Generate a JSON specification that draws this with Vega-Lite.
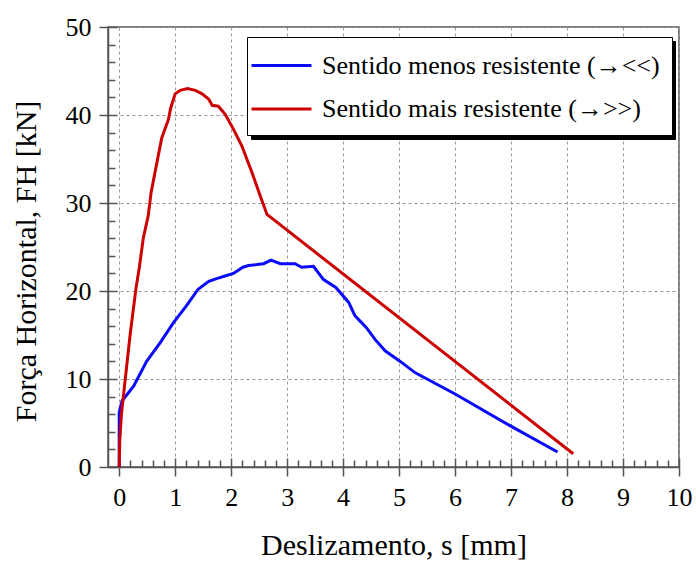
{
  "$schema": "https://vega.github.io/schema/vega-lite/v6.json",
  "autosize": {"type": "none"},
  "padding": {"left": 108, "top": 27, "right": 17, "bottom": 96},
  "width": 571,
  "height": 440,
  "background": "white",
  "config": {
    "view": {"stroke": "#555555", "strokeWidth": 1.5},
    "font": "Liberation Serif, Times New Roman, serif",
    "axis": {
      "labelFont": "Liberation Serif, Times New Roman, serif",
      "labelFontSize": 26,
      "labelColor": "black",
      "titleFont": "Liberation Serif, Times New Roman, serif",
      "titleFontSize": 30,
      "titleFontWeight": "normal",
      "titleColor": "black",
      "domainColor": "#555555",
      "domainWidth": 1.5,
      "tickColor": "#555555",
      "tickWidth": 1.5,
      "gridColor": "#999999",
      "gridDash": [3, 3],
      "gridWidth": 1,
      "labelOverlap": false,
      "labelFlush": false
    },
    "legend": {
      "labelFont": "Liberation Serif, Times New Roman, serif",
      "labelFontSize": 26,
      "labelColor": "black",
      "labelLimit": 0
    }
  },
  "resolve": {"axis": {"x": "independent", "y": "independent"}},
  "data": {
    "values": [
      {"s": 0, "F": 0, "serie": "Sentido menos resistente (→<<)"},
      {"s": 0, "F": 6.2, "serie": "Sentido menos resistente (→<<)"},
      {"s": 0.05, "F": 7.5, "serie": "Sentido menos resistente (→<<)"},
      {"s": 0.26, "F": 9.2, "serie": "Sentido menos resistente (→<<)"},
      {"s": 0.49, "F": 12.0, "serie": "Sentido menos resistente (→<<)"},
      {"s": 0.73, "F": 14.1, "serie": "Sentido menos resistente (→<<)"},
      {"s": 0.97, "F": 16.4, "serie": "Sentido menos resistente (→<<)"},
      {"s": 1.2, "F": 18.3, "serie": "Sentido menos resistente (→<<)"},
      {"s": 1.41, "F": 20.2, "serie": "Sentido menos resistente (→<<)"},
      {"s": 1.6, "F": 21.1, "serie": "Sentido menos resistente (→<<)"},
      {"s": 1.74, "F": 21.4, "serie": "Sentido menos resistente (→<<)"},
      {"s": 1.89, "F": 21.7, "serie": "Sentido menos resistente (→<<)"},
      {"s": 2.04, "F": 22.0, "serie": "Sentido menos resistente (→<<)"},
      {"s": 2.21, "F": 22.7, "serie": "Sentido menos resistente (→<<)"},
      {"s": 2.31, "F": 22.9, "serie": "Sentido menos resistente (→<<)"},
      {"s": 2.46, "F": 23.0, "serie": "Sentido menos resistente (→<<)"},
      {"s": 2.58, "F": 23.1, "serie": "Sentido menos resistente (→<<)"},
      {"s": 2.71, "F": 23.5, "serie": "Sentido menos resistente (→<<)"},
      {"s": 2.88, "F": 23.1, "serie": "Sentido menos resistente (→<<)"},
      {"s": 3.14, "F": 23.1, "serie": "Sentido menos resistente (→<<)"},
      {"s": 3.26, "F": 22.7, "serie": "Sentido menos resistente (→<<)"},
      {"s": 3.47, "F": 22.8, "serie": "Sentido menos resistente (→<<)"},
      {"s": 3.65, "F": 21.3, "serie": "Sentido menos resistente (→<<)"},
      {"s": 3.87, "F": 20.4, "serie": "Sentido menos resistente (→<<)"},
      {"s": 4.1, "F": 18.7, "serie": "Sentido menos resistente (→<<)"},
      {"s": 4.21, "F": 17.2, "serie": "Sentido menos resistente (→<<)"},
      {"s": 4.42, "F": 15.8, "serie": "Sentido menos resistente (→<<)"},
      {"s": 4.57, "F": 14.5, "serie": "Sentido menos resistente (→<<)"},
      {"s": 4.75, "F": 13.2, "serie": "Sentido menos resistente (→<<)"},
      {"s": 5.02, "F": 12.0, "serie": "Sentido menos resistente (→<<)"},
      {"s": 5.29, "F": 10.7, "serie": "Sentido menos resistente (→<<)"},
      {"s": 6.0, "F": 8.3, "serie": "Sentido menos resistente (→<<)"},
      {"s": 6.98, "F": 4.7, "serie": "Sentido menos resistente (→<<)"},
      {"s": 7.83, "F": 1.7, "serie": "Sentido menos resistente (→<<)"},
      {"s": 0, "F": 0, "serie": "Sentido mais resistente (→>>)"},
      {"s": 0.01, "F": 3.0, "serie": "Sentido mais resistente (→>>)"},
      {"s": 0.04, "F": 6.0, "serie": "Sentido mais resistente (→>>)"},
      {"s": 0.1, "F": 9.5, "serie": "Sentido mais resistente (→>>)"},
      {"s": 0.2, "F": 15.3, "serie": "Sentido mais resistente (→>>)"},
      {"s": 0.3, "F": 20.3, "serie": "Sentido mais resistente (→>>)"},
      {"s": 0.36, "F": 22.7, "serie": "Sentido mais resistente (→>>)"},
      {"s": 0.43, "F": 26.0, "serie": "Sentido mais resistente (→>>)"},
      {"s": 0.52, "F": 28.6, "serie": "Sentido mais resistente (→>>)"},
      {"s": 0.57, "F": 31.2, "serie": "Sentido mais resistente (→>>)"},
      {"s": 0.64, "F": 33.5, "serie": "Sentido mais resistente (→>>)"},
      {"s": 0.76, "F": 37.4, "serie": "Sentido mais resistente (→>>)"},
      {"s": 0.88, "F": 39.5, "serie": "Sentido mais resistente (→>>)"},
      {"s": 0.92, "F": 40.8, "serie": "Sentido mais resistente (→>>)"},
      {"s": 1.0, "F": 42.4, "serie": "Sentido mais resistente (→>>)"},
      {"s": 1.09, "F": 42.8, "serie": "Sentido mais resistente (→>>)"},
      {"s": 1.22, "F": 43.0, "serie": "Sentido mais resistente (→>>)"},
      {"s": 1.36, "F": 42.8, "serie": "Sentido mais resistente (→>>)"},
      {"s": 1.48, "F": 42.4, "serie": "Sentido mais resistente (→>>)"},
      {"s": 1.6, "F": 41.8, "serie": "Sentido mais resistente (→>>)"},
      {"s": 1.66, "F": 41.1, "serie": "Sentido mais resistente (→>>)"},
      {"s": 1.77, "F": 41.0, "serie": "Sentido mais resistente (→>>)"},
      {"s": 1.89, "F": 40.1, "serie": "Sentido mais resistente (→>>)"},
      {"s": 2.04, "F": 38.4, "serie": "Sentido mais resistente (→>>)"},
      {"s": 2.19, "F": 36.5, "serie": "Sentido mais resistente (→>>)"},
      {"s": 2.37, "F": 33.5, "serie": "Sentido mais resistente (→>>)"},
      {"s": 2.52, "F": 30.8, "serie": "Sentido mais resistente (→>>)"},
      {"s": 2.64, "F": 28.7, "serie": "Sentido mais resistente (→>>)"},
      {"s": 8.11, "F": 1.5, "serie": "Sentido mais resistente (→>>)"}
    ]
  },
  "layer": [
    {
      "transform": [{"filter": "datum.serie === 'Sentido menos resistente (→<<)'"}],
      "mark": {"type": "line", "strokeWidth": 3},
      "encoding": {
        "x": {
          "field": "s",
          "type": "quantitative",
          "scale": {"domain": [-0.2, 10], "nice": false, "zero": false},
          "axis": {
            "orient": "bottom",
            "title": "Deslizamento, s [mm]",
            "values": [0, 0.2, 0.4, 0.6, 0.8, 1, 1.2, 1.4, 1.6, 1.8, 2, 2.2, 2.4, 2.6, 2.8, 3, 3.2, 3.4, 3.6, 3.8, 4, 4.2, 4.4, 4.6, 4.8, 5, 5.2, 5.4, 5.6, 5.8, 6, 6.2, 6.4, 6.6, 6.8, 7, 7.2, 7.4, 7.6, 7.8, 8, 8.2, 8.4, 8.6, 8.8, 9, 9.2, 9.4, 9.6, 9.8, 10],
            "labelExpr": "datum.value % 1 === 0 ? format(datum.value, 'd') : ''",
            "grid": true,
            "gridOpacity": {"condition": {"test": "datum.value % 1 === 0", "value": 1}, "value": 0},
            "tickSize": {"condition": {"test": "datum.value % 1 === 0", "value": 9}, "value": -7},
            "labelPadding": 8,
            "titlePadding": 20
          }
        },
        "y": {
          "field": "F",
          "type": "quantitative",
          "scale": {"domain": [0, 50], "nice": false},
          "axis": {
            "orient": "left",
            "title": "Força Horizontal, FH [kN]",
            "values": [0, 2, 4, 6, 8, 10, 12, 14, 16, 18, 20, 22, 24, 26, 28, 30, 32, 34, 36, 38, 40, 42, 44, 46, 48, 50],
            "labelExpr": "datum.value % 10 === 0 ? format(datum.value, 'd') : ''",
            "grid": true,
            "gridOpacity": {"condition": {"test": "datum.value % 10 === 0", "value": 1}, "value": 0},
            "tickSize": {"condition": {"test": "datum.value % 10 === 0", "value": 9}, "value": -7},
            "labelPadding": 8,
            "titleX": -82,
            "titleY": 234,
            "titleBaseline": "middle"
          }
        },
        "color": {
          "field": "serie",
          "type": "nominal",
          "scale": {
            "domain": ["Sentido menos resistente (→<<)", "Sentido mais resistente (→>>)"],
            "range": ["#0a0aff", "#cc0000"]
          },
          "legend": {
            "title": null,
            "orient": "none",
            "legendX": 139,
            "legendY": 10,
            "zindex": 2,
            "symbolType": "M-1.6,0H2.4",
            "symbolSize": 900,
            "symbolStrokeWidth": 3,
            "labelOffset": 30,
            "padding": 12,
            "rowPadding": 13.6,
            "strokeColor": "black",
            "fillColor": "white"
          }
        }
      }
    },
    {
      "transform": [{"filter": "datum.serie === 'Sentido mais resistente (→>>)'"}],
      "mark": {"type": "line", "strokeWidth": 3},
      "encoding": {
        "x": {"field": "s", "type": "quantitative", "axis": null},
        "y": {"field": "F", "type": "quantitative", "axis": null},
        "color": {"field": "serie", "type": "nominal"}
      }
    },
    {
      "mark": {"type": "point", "opacity": 0},
      "encoding": {
        "x": {"field": "s", "type": "quantitative", "axis": null},
        "y": {"field": "F", "type": "quantitative", "axis": null},
        "shape": {
          "field": "serie",
          "type": "nominal",
          "scale": {
            "domain": ["Sentido mais resistente (→>>)", "Sentido menos resistente (→<<)"],
            "range": ["M-1.6,0H2.4", "M-1.6,0H2.4"]
          },
          "legend": {
            "title": null,
            "orient": "none",
            "legendX": 143,
            "legendY": 14,
            "zindex": 1,
            "symbolSize": 900,
            "symbolStrokeWidth": 3,
            "symbolOpacity": 0,
            "labelExpr": "''",
            "labelOffset": 367,
            "padding": 12,
            "rowPadding": 13.6,
            "strokeColor": "black",
            "fillColor": "black"
          }
        }
      }
    },
    {
      "mark": {"type": "point", "opacity": 0},
      "encoding": {
        "x": {
          "field": "s",
          "type": "quantitative",
          "axis": {
            "orient": "bottom",
            "values": [0, 1, 2, 3, 4, 5, 6, 7, 8, 9, 10],
            "labels": false,
            "domain": false,
            "grid": false,
            "title": null,
            "tickSize": -9
          }
        },
        "y": {
          "field": "F",
          "type": "quantitative",
          "axis": {
            "orient": "left",
            "values": [0, 10, 20, 30, 40, 50],
            "labels": false,
            "domain": false,
            "grid": false,
            "title": null,
            "tickSize": -9
          }
        }
      }
    }
  ]
}
